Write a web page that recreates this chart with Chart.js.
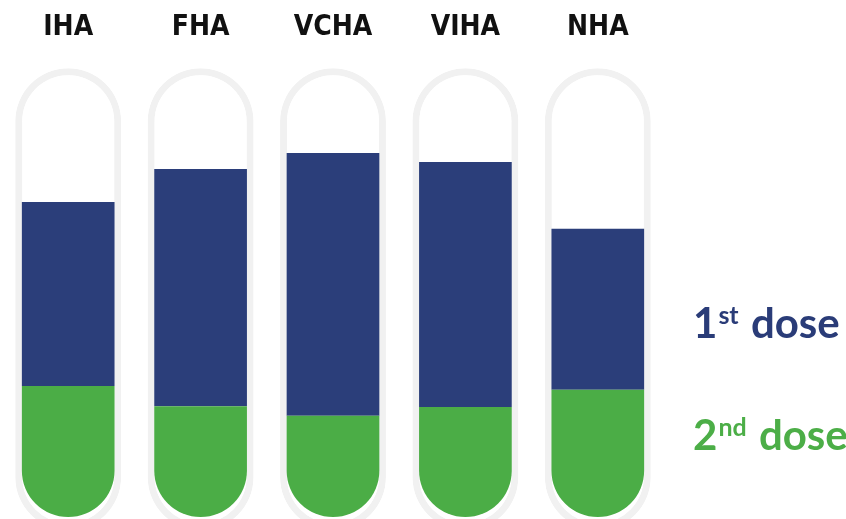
<!DOCTYPE html>
<html>
<head>
<meta charset="utf-8">
<script src="https://cdn.jsdelivr.net/npm/chart.js@4"></script>
<style>
    html, body { margin: 0; padding: 0; background: #ffffff; }
    #wrap { position: relative; width: 846px; height: 519px; overflow: hidden; }
    .dose {
        position: absolute;
        left: 693px;
        font-family: Lato, 'Open Sans', sans-serif;
        font-weight: bold;
        font-size: 42px;
        line-height: 42px;
        white-space: nowrap;
    }
    .dose span { font-size: 25px; line-height: 1; vertical-align: 14px; margin-left: 1px; margin-right: 2px; }
    #first { top: 301px; color: #2a3c78; }
    #second { top: 413px; color: #4cae47; }
</style>
</head>
<body>
<div id="wrap">
    <canvas id="tubeChart" width="846" height="519"></canvas>
    <div class="dose" id="first">1<span>st</span> dose</div>
    <div class="dose" id="second">2<span>nd</span> dose</div>
</div>
<script>
// regions (tick labels across the top)
const regions = ['IHA', 'FHA', 'VCHA', 'VIHA', 'NHA'];
// share reached, % (top of the blue fill)
const firstDose = [71.6, 79.1, 82.7, 80.7, 65.5];
// share reached, % (top of the green fill)
const secondDose = [29.8, 25.2, 23.0, 25.0, 28.9];
// tube outline, from below the floor to just over 100
const tubeRange = [-3, 102];

const NAVY = '#2b3e7a';
const GREEN = '#4bad46';

const ctx = document.getElementById('tubeChart');

new Chart(ctx, {
    type: 'bar',
    data: {
        labels: regions,
        datasets: [{
            label: 'tube',
            data: regions.map(() => tubeRange),
            backgroundColor: '#ffffff',
            borderColor: '#f1f1f1',
            borderWidth: 7,
            borderSkipped: false,
            borderRadius: 53,
            barPercentage: 0.8,
            categoryPercentage: 1,
            order: 2
        }, {
            label: '1st dose',
            data: firstDose.map((v, i) => [secondDose[i], v]),
            backgroundColor: NAVY,
            borderWidth: 0,
            borderSkipped: false,
            borderRadius: 0,
            barPercentage: 0.7,
            categoryPercentage: 1,
            order: 1
        }, {
            label: '2nd dose',
            data: secondDose,
            backgroundColor: GREEN,
            borderWidth: 0,
            borderSkipped: false,
            borderRadius: { topLeft: 0, topRight: 0, bottomLeft: 47, bottomRight: 47 },
            barPercentage: 0.7,
            categoryPercentage: 1,
            order: 0
        }]
    },
    options: {
        responsive: false,
        animation: false,
        layout: {
            padding: { top: -4, left: 2, right: 182, bottom: 0 }
        },
        plugins: {
            legend: { display: false },
            tooltip: { enabled: false }
        },
        scales: {
            x: {
                position: 'top',
                stacked: true,
                grid: { display: false, drawTicks: false },
                border: { display: false },
                ticks: {
                    color: '#111111',
                    padding: 24,
                    font: {
                        family: "'Liberation Sans Narrow', 'DejaVu Sans Condensed', sans-serif",
                        weight: 'bold',
                        size: 28,
                        lineHeight: 0.55
                    }
                }
            },
            y: {
                display: false,
                stacked: false,
                min: -0.45,
                max: 104
            }
        }
    }
});
</script>
</body>
</html>
